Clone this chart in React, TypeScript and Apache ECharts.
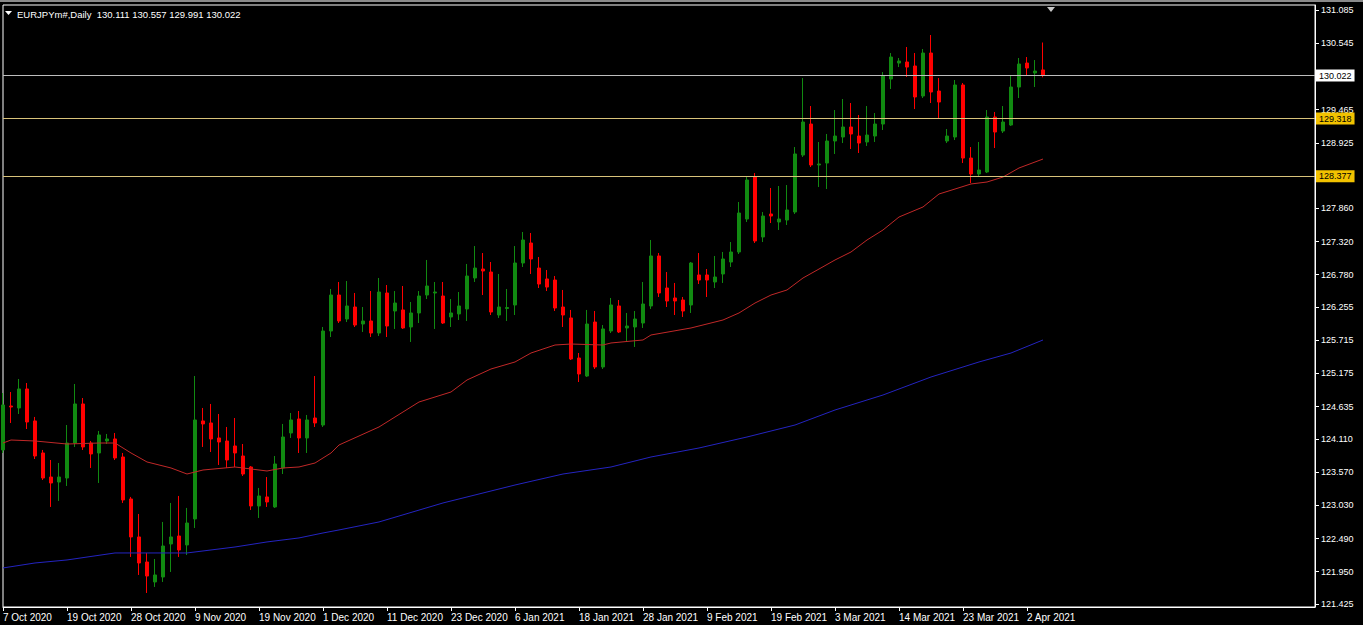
import React, { useEffect, useRef } from 'react';
import * as echarts from 'echarts';

const tickLabels = ['7 Oct 2020', '19 Oct 2020', '28 Oct 2020', '9 Nov 2020', '19 Nov 2020', '1 Dec 2020', '11 Dec 2020', '23 Dec 2020', '6 Jan 2021', '18 Jan 2021', '28 Jan 2021', '9 Feb 2021', '19 Feb 2021', '3 Mar 2021', '14 Mar 2021', '23 Mar 2021', '2 Apr 2021'];
const barsPerLabel = 8;
const totalSlots = 165;

const open = [123.930, 124.645, 124.613, 124.922, 124.402, 123.881, 123.490, 123.409, 123.474, 124.043, 124.678, 124.043, 123.881, 124.076, 124.109, 123.816, 123.133, 122.515, 122.108, 121.783, 121.864, 122.401, 122.531, 122.385, 122.808, 124.402, 124.369, 124.125, 124.076, 123.995, 123.832, 123.653, 123.019, 123.166, 123.003, 123.637, 124.206, 124.434, 124.125, 124.450, 124.336, 125.865, 126.450, 126.060, 126.255, 125.979, 126.028, 125.832, 126.483, 126.190, 126.207, 125.930, 126.158, 126.450, 126.483, 126.434, 126.093, 126.142, 126.223, 126.727, 126.873, 126.824, 126.125, 126.231, 126.288, 126.971, 127.296, 126.889, 126.711, 126.694, 126.255, 126.077, 125.426, 125.133, 126.011, 125.280, 125.865, 126.272, 125.914, 125.930, 125.995, 126.272, 127.085, 126.564, 126.402, 126.369, 126.288, 126.776, 126.776, 126.662, 126.792, 126.987, 127.150, 127.686, 128.369, 127.394, 127.768, 127.638, 127.670, 127.800, 128.727, 129.231, 128.565, 128.597, 128.955, 129.020, 129.183, 129.036, 128.939, 129.036, 129.231, 129.963, 130.223, 130.240, 130.175, 129.687, 130.386, 129.768, 128.955, 129.020, 129.866, 128.678, 128.418, 128.451, 129.345, 129.117, 129.215, 129.833, 130.223, 130.061, 130.111];
const high = [124.856, 124.873, 125.084, 125.019, 124.467, 123.930, 123.767, 123.718, 124.336, 125.003, 124.775, 124.076, 124.239, 124.190, 124.206, 123.881, 123.166, 122.889, 122.255, 122.157, 122.759, 123.068, 123.182, 122.987, 125.133, 124.613, 124.678, 124.515, 124.304, 124.450, 124.027, 123.669, 123.312, 123.490, 123.832, 124.353, 124.531, 124.564, 124.499, 125.133, 125.930, 126.548, 126.662, 126.678, 126.483, 126.255, 126.515, 126.727, 126.613, 126.515, 126.597, 126.337, 126.515, 127.020, 126.662, 126.662, 126.385, 126.499, 126.955, 127.247, 127.133, 126.987, 126.792, 126.548, 127.247, 127.475, 127.459, 127.068, 126.857, 126.759, 126.532, 126.207, 125.507, 126.207, 126.190, 125.962, 126.402, 126.369, 126.158, 126.190, 126.662, 127.345, 127.133, 126.824, 126.646, 126.418, 126.987, 127.133, 126.873, 127.085, 127.150, 127.312, 127.963, 128.369, 128.434, 127.800, 128.191, 128.223, 128.239, 128.857, 129.979, 129.524, 128.939, 129.069, 129.459, 129.638, 129.573, 129.378, 129.524, 129.410, 130.077, 130.386, 130.305, 130.484, 130.386, 130.451, 130.679, 129.979, 129.150, 129.947, 129.898, 128.857, 128.939, 129.459, 129.427, 129.524, 130.028, 130.305, 130.321, 130.272, 130.557];
const low = [123.881, 124.369, 124.515, 124.271, 123.783, 123.442, 123.003, 123.101, 123.344, 123.979, 123.930, 123.637, 123.393, 124.027, 123.767, 123.068, 122.190, 121.897, 121.604, 121.702, 121.783, 121.946, 122.190, 122.222, 122.661, 123.979, 123.897, 123.686, 123.637, 123.653, 123.507, 122.954, 122.824, 123.003, 122.987, 123.539, 124.125, 123.881, 123.881, 124.304, 124.304, 125.767, 125.995, 126.011, 125.930, 125.849, 125.767, 125.784, 125.767, 125.898, 125.898, 125.686, 125.995, 126.385, 125.898, 125.979, 125.930, 126.044, 126.028, 126.662, 126.450, 126.125, 126.077, 126.028, 126.125, 126.906, 126.792, 126.564, 126.515, 126.190, 125.930, 125.393, 125.035, 125.117, 125.247, 125.247, 125.832, 125.832, 125.686, 125.605, 125.914, 126.223, 126.418, 126.255, 126.125, 126.093, 126.158, 126.629, 126.418, 126.564, 126.646, 126.906, 127.117, 127.638, 127.296, 127.312, 127.621, 127.508, 127.589, 127.768, 128.695, 128.532, 128.207, 128.174, 128.744, 128.922, 128.825, 128.760, 128.874, 128.939, 129.134, 129.801, 130.158, 129.996, 129.475, 129.654, 129.573, 129.329, 128.922, 128.971, 128.597, 128.272, 128.369, 128.434, 128.841, 129.085, 129.200, 129.654, 130.028, 129.833, 129.991];
const close = [124.662, 124.629, 124.922, 124.385, 123.832, 123.474, 123.393, 123.490, 124.043, 124.678, 123.979, 123.865, 124.174, 124.109, 123.800, 123.117, 122.515, 122.092, 121.880, 121.897, 122.368, 122.515, 122.303, 122.742, 124.418, 124.353, 124.109, 124.060, 123.767, 123.881, 123.539, 123.019, 123.182, 123.084, 123.702, 124.141, 124.418, 124.125, 124.418, 124.369, 125.865, 126.450, 126.028, 126.272, 125.962, 126.028, 125.832, 126.499, 125.946, 126.320, 125.914, 126.158, 126.434, 126.597, 126.499, 125.995, 126.158, 126.272, 126.759, 126.889, 126.841, 126.174, 126.255, 126.247, 126.971, 127.345, 127.036, 126.629, 126.580, 126.239, 126.125, 125.410, 125.166, 125.979, 125.280, 125.898, 126.288, 125.849, 125.946, 126.060, 126.304, 127.085, 126.483, 126.353, 126.353, 126.190, 126.971, 126.694, 126.694, 126.743, 127.036, 127.150, 127.784, 128.321, 127.329, 127.735, 127.735, 127.686, 127.833, 128.744, 129.264, 128.565, 128.581, 128.955, 129.036, 129.183, 129.069, 128.922, 129.052, 129.231, 130.012, 130.321, 130.256, 130.158, 129.671, 130.386, 129.752, 129.589, 129.036, 129.866, 128.678, 128.418, 128.483, 129.345, 129.101, 129.264, 129.833, 130.207, 130.142, 130.093, 130.022];

const maRed = [[0, 124.043], [1, 124.092], [4, 124.076], [8, 124.027], [12, 124.043], [14, 124.043], [16, 123.881], [18, 123.735], [21, 123.637], [23, 123.539], [25, 123.604], [29, 123.653], [33, 123.588], [35, 123.637], [37, 123.653], [39, 123.718], [41, 123.881], [42, 124.011], [47, 124.304], [52, 124.710], [56, 124.873], [58, 125.068], [61, 125.247], [64, 125.361], [66, 125.507], [69, 125.637], [71, 125.653], [75, 125.637], [76, 125.670], [80, 125.719], [81, 125.800], [86, 125.914], [90, 126.044], [92, 126.158], [94, 126.320], [96, 126.450], [98, 126.532], [100, 126.727], [102, 126.873], [104, 127.020], [106, 127.150], [108, 127.345], [110, 127.508], [112, 127.719], [115, 127.882], [117, 128.093], [119, 128.174], [121, 128.256], [123, 128.288], [125, 128.369], [127, 128.516], [130, 128.662]];
const maBlue = [[0, 122.011], [4, 122.092], [8, 122.141], [14, 122.255], [23, 122.255], [29, 122.352], [33, 122.434], [37, 122.499], [40, 122.580], [42, 122.629], [47, 122.759], [55, 123.068], [64, 123.360], [70, 123.539], [76, 123.653], [81, 123.816], [87, 123.962], [93, 124.141], [99, 124.336], [104, 124.580], [110, 124.824], [116, 125.117], [122, 125.361], [126, 125.507], [130, 125.719]];

const priceTicks = [131.085, 130.545, 129.465, 128.925, 127.860, 127.320, 126.780, 126.255, 125.715, 125.175, 124.635, 124.110, 123.570, 123.030, 122.490, 121.950, 121.425];
const lastPrice = 130.022;
const levelLines = [129.318, 128.377];
const headerSymbol = 'EURJPYm#,Daily';
const headerOHLC = [130.111, 130.557, 129.991, 130.022];
const yMin = 121.376;
const yMax = 131.167;

const FONT = 'Liberation Sans, Arial, sans-serif';

export default function App() {
  const ref = useRef<HTMLDivElement>(null);
  useEffect(() => {
    document.body.style.margin = '0';
    document.body.style.background = '#000';
    if (!ref.current) return;
    const chart = echarts.init(ref.current, undefined, { renderer: 'svg' });
    const categories = Array.from({ length: totalSlots }, (_, i) =>
      i % barsPerLabel === 0 && i / barsPerLabel < tickLabels.length ? tickLabels[i / barsPerLabel] : 's' + i
    );
    const showTick = (index: number) => index % barsPerLabel === 0 && index / barsPerLabel < tickLabels.length;
    const candleData = open.map((o, i) => [o, close[i], low[i], high[i]]);
    const markData: any[] = [
      {
        yAxis: lastPrice,
        lineStyle: { color: '#bdbdbd', width: 1, type: 'solid' },
        label: {
          show: true, position: 'end', distance: 1, formatter: lastPrice.toFixed(3),
          backgroundColor: '#ffffff', color: '#000', padding: [2, 3, 1, 3], fontSize: 9, fontFamily: FONT,
        },
      },
      ...levelLines.map((v) => ({
        yAxis: v,
        lineStyle: { color: '#d8c27a', width: 1, type: 'solid' },
        label: {
          show: true, position: 'end', distance: 1, formatter: v.toFixed(3),
          backgroundColor: '#f2c200', color: '#000', padding: [2, 3, 1, 3], fontSize: 9, fontFamily: FONT,
        },
      })),
    ];
    chart.setOption({
      animation: false,
      backgroundColor: '#000',
      grid: { left: 2, right: 48, top: 5, bottom: 18, show: true, borderColor: '#ffffff', borderWidth: 1 },
      xAxis: {
        type: 'category',
        data: categories,
        boundaryGap: false,
        axisLine: { lineStyle: { color: '#ffffff', width: 1 } },
        axisTick: { show: true, interval: showTick, length: 4, lineStyle: { color: '#ffffff' } },
        axisLabel: {
          interval: showTick, color: '#ffffff', fontSize: 10, fontFamily: FONT, align: 'left', margin: 5,
        },
        splitLine: { show: false },
      },
      yAxis: {
        type: 'value',
        position: 'right',
        min: yMin,
        max: yMax,
        scale: true,
        axisLine: { show: true, lineStyle: { color: '#ffffff', width: 1 } },
        axisTick: { show: true, customValues: priceTicks, length: 4, lineStyle: { color: '#ffffff' } },
        axisLabel: {
          customValues: priceTicks, color: '#ffffff', fontSize: 9, fontFamily: FONT, margin: 6,
          formatter: (v: number) => v.toFixed(3),
        },
        splitLine: { show: false },
      },
      series: [
        {
          type: 'candlestick',
          data: candleData,
          barWidth: 4,
          clip: true,
          itemStyle: {
            color: '#118a11', color0: '#ff0000', borderColor: '#118a11', borderColor0: '#ff0000', borderWidth: 1,
          },
          markLine: { symbol: ['none', 'none'], silent: true, animation: false, data: markData },
        },
        {
          type: 'line', data: maRed, showSymbol: false, symbol: 'none', smooth: false,
          lineStyle: { color: '#c02828', width: 1 }, z: 3,
        },
        {
          type: 'line', data: maBlue, showSymbol: false, symbol: 'none', smooth: false,
          lineStyle: { color: '#2424c0', width: 1 }, z: 3,
        },
      ],
      graphic: [
        { type: 'rect', shape: { x: 0, y: 0, width: 1363, height: 2 }, style: { fill: '#8a8a8a' }, silent: true },
        { type: 'polygon', shape: { points: [[5, 11], [12, 11], [8.5, 15]] }, style: { fill: '#ffffff' }, silent: true },
        {
          type: 'text', x: 17, y: 14,
          style: {
            text: headerSymbol + '  ' + headerOHLC.map((v) => v.toFixed(3)).join(' '),
            fill: '#ffffff', font: '9.5px ' + FONT, textVerticalAlign: 'middle', verticalAlign: 'middle',
          },
          silent: true,
        },
        { type: 'polygon', shape: { points: [[1047, 7], [1055, 7], [1051, 12]] }, style: { fill: '#c8c8c8' }, silent: true },
      ],
    });
    return () => chart.dispose();
  }, []);
  return <div ref={ref} style={{ width: 1363, height: 625, background: '#000' }} />;
}
